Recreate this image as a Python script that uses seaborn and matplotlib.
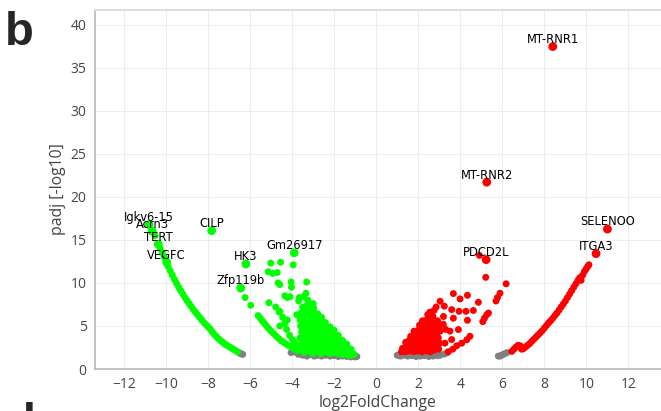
import pandas as pd
import matplotlib
matplotlib.use('Agg')
import matplotlib.pyplot as plt
import seaborn as sns

# labelled genes
gene_names = ['MT-RNR1', 'MT-RNR2', 'SELENOO', 'ITGA3', 'PDCD2L', 'CILP', 'HK3',
              'Gm26917', 'Zfp119b', 'Igkv6-15', 'Acrn3', 'TERT', 'VEGFC']
gene_fc = [8.40, 5.26, 11.0, 10.46, 5.23, -7.83, -6.20, -3.90, -6.45, -10.81, -10.66, -10.37, -9.97]
gene_padj = [37.45, 21.7, 16.26, 13.4, 12.7, 16.07, 12.2, 13.5, 9.4, 16.8, 16.0, 14.5, 12.4]
gene_group = ['up', 'up', 'up', 'up', 'up', 'down', 'down', 'down', 'down', 'down', 'down', 'down', 'down']

# down-regulated (green)
green_curve = [(-10.62, 16.0), (-10.52, 15.5), (-10.28, 14.0), (-10.18, 13.5), (-10.08, 13.0),
               (-9.95, 12.2), (-9.9, 11.9), (-9.8, 11.4), (-9.7, 10.9), (-9.6, 10.4), (-9.5, 9.95),
               (-9.4, 9.5), (-9.3, 9.1), (-9.2, 8.7), (-9.1, 8.3), (-9.0, 7.95), (-8.9, 7.6),
               (-8.8, 7.25), (-8.7, 6.9), (-8.6, 6.6), (-8.5, 6.3), (-8.4, 6.0), (-8.3, 5.7),
               (-8.2, 5.4), (-8.1, 5.15), (-8.0, 4.9), (-7.9, 4.65), (-7.8, 4.3), (-7.7, 4.0),
               (-7.6, 3.75), (-7.5, 3.5), (-7.4, 3.3), (-7.3, 3.1), (-7.2, 2.9), (-7.1, 2.75),
               (-7.0, 2.6), (-6.9, 2.45), (-6.8, 2.3), (-6.7, 2.15), (-6.6, 2.0)]
green_streaks = [(-6.24, 8.3), (-5.97, 7.4),
                 (-5.62, 6.2), (-5.52, 5.9), (-5.42, 5.6), (-5.32, 5.3), (-5.22, 5.0), (-5.12, 4.7),
                 (-5.0, 4.4), (-4.88, 4.1), (-4.75, 3.8), (-4.62, 3.5), (-4.5, 3.25), (-4.38, 3.05),
                 (-4.25, 2.85), (-4.12, 2.65), (-4.0, 2.45), (-3.88, 2.3), (-3.76, 2.15),
                 (-4.78, 7.2), (-4.62, 6.6), (-4.45, 6.0), (-4.35, 5.3), (-4.26, 4.6), (-4.12, 3.9),
                 (-3.98, 3.4), (-3.87, 3.0), (-3.71, 2.6)]
green_scatter = [(-5.02, 12.3), (-4.55, 12.4), (-5.14, 11.3), (-4.93, 11.1), (-4.71, 11.2),
                 (-3.95, 12.1), (-4.67, 10.0), (-4.59, 9.8), (-4.05, 10.1), (-4.03, 9.5),
                 (-3.31, 10.1), (-3.34, 8.8), (-4.23, 8.3), (-4.10, 8.4), (-3.66, 8.3),
                 (-5.11, 7.7), (-4.59, 6.7), (-4.23, 5.7), (-3.78, 6.3), (-3.63, 5.7),
                 (-4.59, 5.0), (-4.35, 8.5), (-3.69, 7.9), (-3.45, 8.4), (-3.25, 8.0), (-3.0, 7.6)]
green_cloud = [(-3.62, 2.2), (-3.58, 2.9), (-3.64, 3.6), (-3.55, 4.3), (-3.6, 5.0), (-3.52, 5.8),
               (-3.58, 6.5), (-3.5, 7.2),
               (-3.42, 1.9), (-3.38, 2.6), (-3.44, 3.3), (-3.36, 4.0), (-3.41, 4.7), (-3.35, 5.4),
               (-3.43, 6.1), (-3.38, 6.8), (-3.3, 7.4),
               (-3.22, 2.1), (-3.18, 2.8), (-3.24, 3.5), (-3.16, 4.2), (-3.2, 4.9), (-3.15, 5.6),
               (-3.22, 6.3), (-3.12, 6.9), (-3.18, 7.6),
               (-3.02, 1.8), (-2.98, 2.5), (-3.04, 3.2), (-2.96, 3.9), (-3.0, 4.6), (-2.95, 5.3),
               (-3.03, 6.0), (-2.92, 6.5), (-2.98, 7.1),
               (-2.82, 2.0), (-2.78, 2.7), (-2.84, 3.4), (-2.76, 4.1), (-2.8, 4.8), (-2.74, 5.5),
               (-2.7, 6.0), (-2.78, 6.4),
               (-2.62, 1.8), (-2.58, 2.5), (-2.63, 3.2), (-2.56, 3.9), (-2.6, 4.6), (-2.54, 5.3),
               (-2.6, 6.0),
               (-2.42, 2.0), (-2.38, 2.7), (-2.44, 3.4), (-2.36, 4.1), (-2.4, 4.8), (-2.42, 5.4),
               (-2.22, 1.8), (-2.18, 2.5), (-2.24, 3.2), (-2.16, 3.9), (-2.14, 4.4), (-2.2, 4.9),
               (-2.02, 1.9), (-1.98, 2.6), (-2.04, 3.3), (-1.96, 3.9), (-2.0, 4.5),
               (-1.82, 1.8), (-1.78, 2.4), (-1.84, 3.0), (-1.76, 3.4), (-1.8, 3.9),
               (-1.62, 1.7), (-1.58, 2.3), (-1.56, 2.8), (-1.6, 3.3),
               (-1.42, 1.7), (-1.38, 2.2), (-1.36, 2.5), (-1.4, 2.9),
               (-1.22, 1.6), (-1.18, 2.0), (-1.2, 2.3), (-1.05, 1.7),
               (-3.5, 2.5), (-3.48, 3.9), (-3.46, 5.3), (-3.3, 2.2), (-3.28, 3.6), (-3.26, 5.0),
               (-3.26, 6.6), (-3.1, 2.4), (-3.08, 3.8), (-3.06, 5.2), (-3.08, 6.4), (-2.9, 2.2),
               (-2.88, 3.6), (-2.86, 5.0), (-2.86, 5.9), (-2.7, 2.3), (-2.68, 3.7), (-2.66, 5.1),
               (-2.5, 2.2), (-2.48, 3.6), (-2.5, 4.9), (-2.3, 2.3), (-2.28, 3.6), (-2.3, 4.7),
               (-2.1, 2.2), (-2.08, 3.5), (-2.1, 4.3), (-1.9, 2.1), (-1.88, 3.2), (-1.9, 3.8),
               (-1.7, 2.0), (-1.68, 2.9), (-1.5, 1.9), (-1.48, 2.6), (-1.3, 1.8), (-1.28, 2.3),
               (-1.12, 1.8)]

# up-regulated (red)
red_cloud = [(1.2, 2.0), (1.25, 2.4),
             (1.38, 2.0), (1.42, 2.6), (1.4, 3.1),
             (1.58, 2.1), (1.62, 2.7), (1.56, 3.3), (1.64, 3.8),
             (1.78, 2.0), (1.82, 2.6), (1.76, 3.2), (1.84, 3.8), (1.8, 4.4),
             (1.98, 2.1), (2.02, 2.7), (1.96, 3.3), (2.04, 3.9), (2.0, 4.5), (2.06, 5.1),
             (2.18, 2.0), (2.22, 2.6), (2.16, 3.2), (2.24, 3.8), (2.2, 4.4), (2.26, 5.0), (2.2, 5.6),
             (2.38, 2.1), (2.42, 2.7), (2.36, 3.3), (2.44, 3.9), (2.4, 4.5), (2.46, 5.1), (2.4, 5.7),
             (2.45, 6.3),
             (2.58, 2.0), (2.62, 2.6), (2.56, 3.2), (2.64, 3.8), (2.6, 4.4), (2.66, 5.0), (2.6, 5.6),
             (2.55, 6.6),
             (2.78, 2.2), (2.82, 2.8), (2.76, 3.4), (2.84, 4.0), (2.8, 4.6), (2.86, 5.3), (2.75, 6.8),
             (2.98, 2.3), (3.02, 3.0), (2.96, 3.6), (3.04, 4.4), (3.0, 5.0), (2.85, 7.2),
             (1.3, 2.3), (1.5, 2.4), (1.5, 3.0), (1.7, 2.4), (1.7, 3.5), (1.9, 2.4), (1.9, 3.6),
             (1.9, 4.2), (2.1, 2.4), (2.1, 3.6), (2.1, 4.8), (2.3, 2.3), (2.3, 3.5), (2.3, 4.7),
             (2.3, 5.4), (2.5, 2.4), (2.5, 3.6), (2.5, 4.8), (2.5, 6.0), (2.7, 2.5), (2.7, 3.7),
             (2.7, 4.9), (2.7, 6.1), (2.9, 2.6), (2.9, 4.2), (2.92, 5.6)]
red_scatter = [(3.67, 8.76), (3.04, 7.87), (3.99, 8.14), (4.34, 8.56), (4.86, 7.75), (3.24, 7.3),
               (3.59, 6.9), (3.94, 6.7), (4.62, 6.8), (4.27, 6.7), (4.34, 5.66), (3.67, 5.9),
               (3.91, 4.58), (3.51, 4.4), (3.19, 5.2), (3.59, 3.42), (3.27, 3.0), (4.46, 3.8),
               (4.31, 3.4), (4.07, 3.0), (3.83, 2.7), (3.64, 2.3), (3.43, 2.0), (3.2, 6.1),
               (3.3, 4.6), (5.26, 6.3), (5.15, 5.9), (5.07, 5.5), (5.34, 6.5), (5.70, 7.9),
               (5.77, 8.3), (5.89, 8.8), (6.18, 9.9), (5.21, 10.65), (4.91, 13.2)]
red_curve = [(6.45, 2.05), (6.55, 2.3), (6.65, 2.55), (6.75, 2.75), (6.85, 2.7), (6.92, 2.3),
             (7.0, 2.35), (7.1, 2.55), (7.2, 2.75), (7.3, 2.95), (7.4, 3.2), (7.5, 3.45),
             (7.6, 3.7), (7.7, 3.95), (7.8, 4.2), (7.9, 4.45), (8.0, 4.75), (8.1, 5.05),
             (8.2, 5.35), (8.3, 5.6), (8.4, 5.9), (8.5, 6.2), (8.6, 6.5), (8.7, 6.85),
             (8.8, 7.2), (8.9, 7.55), (9.0, 7.9), (9.1, 8.3), (9.2, 8.7), (9.3, 9.1),
             (9.4, 9.5), (9.5, 9.9), (9.6, 10.3), (9.68, 10.6), (9.75, 10.3), (9.82, 10.9),
             (9.9, 11.3), (9.98, 11.6), (10.06, 11.9), (10.12, 12.1)]

# not significant (grey)
grey_points = [(-6.5, 1.85), (-6.42, 1.75), (-6.35, 1.7),
               (-4.05, 1.9), (-3.8, 1.9), (-3.7, 1.7), (-3.6, 1.9), (-3.5, 1.6), (-3.3, 1.5),
               (-3.1, 1.7), (-2.95, 1.5), (-2.8, 1.6), (-2.6, 1.5), (-2.4, 1.6), (-2.2, 1.5),
               (-2.0, 1.55), (-1.8, 1.45), (-1.6, 1.5), (-1.4, 1.45), (-1.2, 1.4), (-1.0, 1.4),
               (-0.92, 1.45),
               (1.0, 1.6), (1.15, 1.5), (1.3, 1.6), (1.5, 1.5), (1.7, 1.55), (1.9, 1.45),
               (2.1, 1.5), (2.3, 1.55), (2.5, 1.45), (2.7, 1.5), (2.9, 1.55), (3.05, 1.6),
               (3.25, 1.75), (3.35, 1.85),
               (5.81, 1.5), (5.89, 1.5), (5.97, 1.6), (6.05, 1.7), (6.13, 1.8), (6.22, 1.9)]

palette = {'down': '#00ff00', 'up': '#ff0000', 'ns': '#808080'}

rows = []
for grp, pts in [('ns', grey_points), ('down', green_curve + green_streaks + green_scatter + green_cloud),
                 ('up', red_cloud + red_scatter + red_curve)]:
    for x, y in pts:
        rows.append({'log2FoldChange': x, 'padj': y, 'group': grp})
df = pd.DataFrame(rows)
genes = pd.DataFrame({'log2FoldChange': gene_fc, 'padj': gene_padj, 'group': gene_group, 'name': gene_names})

sns.set_style('white')
plt.rcParams['font.family'] = ['Open Sans', 'DejaVu Sans']

fig = plt.figure(figsize=(6.61, 4.11), dpi=100)
ax = fig.add_axes([95 / 661, 42 / 411, 566 / 661, 359 / 411])

sns.scatterplot(data=df, x='log2FoldChange', y='padj', hue='group', palette=palette,
                s=25, linewidth=0, legend=False, ax=ax, zorder=3)
sns.scatterplot(data=genes, x='log2FoldChange', y='padj', hue='group', palette=palette,
                s=40, linewidth=0, legend=False, ax=ax, zorder=4)

for _, row in genes.iterrows():
    ax.annotate(row['name'], (row['log2FoldChange'], row['padj']), xytext=(0, 2.6),
                textcoords='offset points', ha='center', va='baseline',
                fontsize=8.3, family='DejaVu Sans', color='black', zorder=5)

ax.set_xlim(-13.38, 13.55)
ax.set_ylim(0, 41.7)
ax.set_xticks(range(-12, 13, 2))
ax.set_yticks(range(0, 41, 5))
ax.grid(True, color='#ebedf5', linewidth=0.8, zorder=0)
ax.set_axisbelow(True)
ax.tick_params(length=0, labelsize=10, labelcolor='#444444', pad=6)
ax.set_xlabel('log2FoldChange', fontsize=11.3, color='#444444', labelpad=2)
ax.set_ylabel('padj [-log10]', fontsize=11.3, color='#444444', labelpad=3)

ax.spines['right'].set_visible(False)
ax.spines['top'].set_color('#dddddd')
ax.spines['top'].set_linewidth(1.5)
for side in ['left', 'bottom']:
    ax.spines[side].set_color('#b8b8b8')
    ax.spines[side].set_linewidth(1.2)

# panel letters
fig.text(5 / 661, 1 - 45 / 411, 'b', fontsize=34, fontweight='bold', family='Liberation Sans',
         va='baseline', ha='left')
fig.text(6 / 661, 1 - 436 / 411, 'd', fontsize=34, fontweight='bold', family='Liberation Sans',
         va='baseline', ha='left')

fig.savefig('out.png', dpi=100)
